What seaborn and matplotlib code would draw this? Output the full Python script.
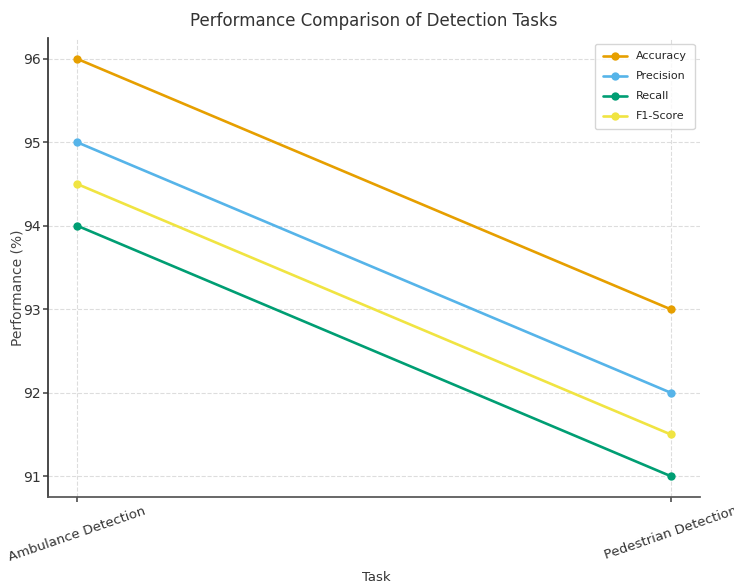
import matplotlib
matplotlib.use("Agg")
import matplotlib.pyplot as plt
import seaborn as sns
import pandas as pd

tasks = ["Ambulance Detection", "Pedestrian Detection"]
metrics = ["Accuracy", "Precision", "Recall", "F1-Score"]
accuracy = [96.0, 93.0]
precision = [95.0, 92.0]
recall = [94.0, 91.0]
f1_score = [94.5, 91.5]
colors = ["#E69F00", "#56B4E9", "#009E73", "#F0E442"]

rows = []
for m, vals in zip(metrics, [accuracy, precision, recall, f1_score]):
    for t, v in zip(tasks, vals):
        rows.append({"Task": t, "Metric": m, "Value": v})
df = pd.DataFrame(rows)

sns.set_theme(style="white")
plt.rcParams['font.family'] = ['DejaVu Sans']

fig = plt.figure(figsize=(7.34, 5.86), dpi=100)
ax = fig.add_axes([0.065, 0.152, 0.889, 0.783])
sns.lineplot(data=df, x="Task", y="Value", hue="Metric", palette=colors,
             marker="o", markersize=6, markeredgewidth=0, linewidth=1.9, ax=ax, sort=False)

ax.grid(True, linestyle="--", color="#dddddd", linewidth=0.8)
ax.set_axisbelow(True)
sns.despine(ax=ax)
ax.spines['left'].set_color("#333333")
ax.spines['bottom'].set_color("#555555")
ax.tick_params(axis='both', which='both', bottom=True, left=True, length=3.5,
               color="#555555", labelsize=10, labelcolor="#333333")
ax.tick_params(axis='x', pad=2, labelsize=9.5)
ax.tick_params(axis='y', pad=1.5)
ax.set_yticks([91, 92, 93, 94, 95, 96])
for lab in ax.get_xticklabels():
    lab.set_rotation(19)
ax.set_title("Performance Comparison of Detection Tasks", fontsize=12, pad=9, color="#333333")
ax.set_xlabel("Task", fontsize=9.5, color="#333333", va="center")
ax.set_ylabel("Performance (%)", fontsize=10, color="#444444", va="center")
ax.xaxis.set_label_coords(0.503, -0.176)
ax.yaxis.set_label_coords(-0.046, 0.455)
ax.legend(loc="upper right", fontsize=8, frameon=True, labelspacing=0.9,
          borderpad=0.7, handlelength=2.2)

fig.savefig("out.png", dpi=100)
